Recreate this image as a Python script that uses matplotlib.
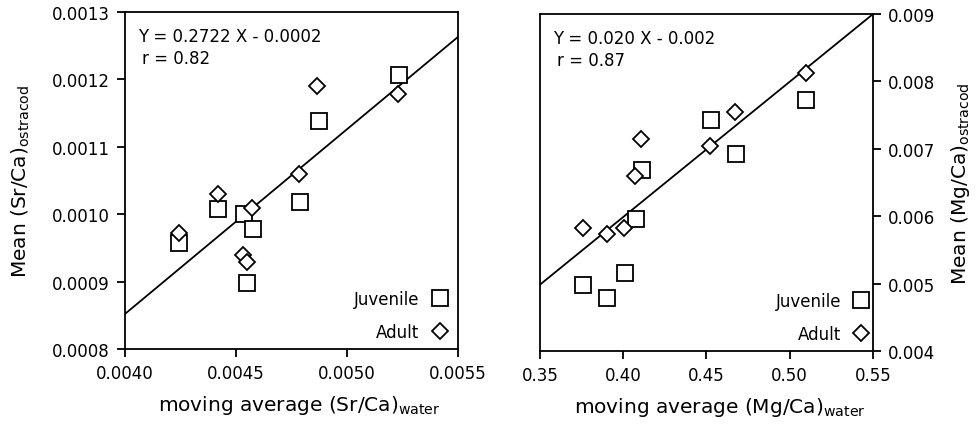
import matplotlib
matplotlib.use("Agg")
import matplotlib.pyplot as plt
import numpy as np

plt.rcParams['font.family'] = ['DejaVu Sans']

# Left panel: Sr/Ca
sr_juv_x = [0.004245, 0.004419, 0.004536, 0.004575, 0.004552, 0.004788, 0.004873, 0.005233]
sr_juv_y = [0.000958, 0.001008, 0.001000, 0.000978, 0.000898, 0.001018, 0.001138, 0.001207]
sr_ad_x = [0.004245, 0.004419, 0.004573, 0.004530, 0.004550, 0.004782, 0.004867, 0.005229]
sr_ad_y = [0.000972, 0.001030, 0.001009, 0.000940, 0.000929, 0.001060, 0.001190, 0.001179]
sr_fit = (0.274, -0.000244)
sr_xticks = [0.0040, 0.0045, 0.0050, 0.0055]
sr_yticks = [0.0008, 0.0009, 0.0010, 0.0011, 0.0012, 0.0013]

# Right panel: Mg/Ca
mg_juv_x = [0.376, 0.390, 0.401, 0.4074, 0.411, 0.4526, 0.4676, 0.510]
mg_juv_y = [0.00498, 0.00478, 0.00516, 0.00596, 0.00668, 0.00743, 0.00693, 0.00773]
mg_ad_x = [0.376, 0.390, 0.4006, 0.407, 0.4104, 0.452, 0.4674, 0.5096]
mg_ad_y = [0.00582, 0.00574, 0.00583, 0.00660, 0.00715, 0.00705, 0.00755, 0.00812]
mg_fit = (0.020075, -0.002041)
mg_xticks = [0.35, 0.40, 0.45, 0.50, 0.55]
mg_yticks = [0.004, 0.005, 0.006, 0.007, 0.008, 0.009]

fig = plt.figure(figsize=(9.77, 4.27), dpi=100)
ax1 = fig.add_axes([0.1279, 0.1803, 0.3408, 0.7892])
ax2 = fig.add_axes([0.5527, 0.1756, 0.3408, 0.7890])

fs = 12
lfs = 14.5
mk = dict(linestyle='none', markerfacecolor='white', markeredgecolor='black', markeredgewidth=1.3)

def style(ax):
    for s in ax.spines.values():
        s.set_linewidth(1.3)
    ax.tick_params(direction='out', length=6, width=1.3, labelsize=fs, pad=5)

# left
x = np.array(sr_xticks[0:1] + sr_xticks[-1:])
ax1.plot(x, sr_fit[0] * x + sr_fit[1], color='black', lw=1.3)
ax1.plot(sr_juv_x, sr_juv_y, marker='s', markersize=11, label='Juvenile', **mk)
ax1.plot(sr_ad_x, sr_ad_y, marker='D', markersize=8, label='Adult', **mk)
ax1.set_xlim(sr_xticks[0], sr_xticks[-1])
ax1.set_ylim(sr_yticks[0], sr_yticks[-1])
ax1.set_xticks(sr_xticks)
ax1.set_xticklabels([f"{v:.4f}" for v in sr_xticks])
ax1.set_yticks(sr_yticks)
ax1.set_yticklabels([f"{v:.4f}" for v in sr_yticks])
ax1.set_xlabel(r"moving average (Sr/Ca)$_{\mathregular{water}}$", fontsize=lfs, labelpad=8)
ax1.xaxis.label.set_x(0.524)
ax1.set_ylabel(r"Mean (Sr/Ca)$_{\mathregular{ostracod}}$", fontsize=lfs, labelpad=14)
ax1.text(0.04, 0.955, "Y = 0.2722 X - 0.0002", transform=ax1.transAxes, fontsize=fs, va='top')
ax1.text(0.05, 0.89, "r = 0.82", transform=ax1.transAxes, fontsize=fs, va='top')
ax1.legend(loc='lower right', markerfirst=False, frameon=False, fontsize=fs,
           handletextpad=0.6, labelspacing=0.9, borderaxespad=0.1, handlelength=1.2)
style(ax1)

# right
x = np.array(mg_xticks[0:1] + mg_xticks[-1:])
ax2.plot(x, mg_fit[0] * x + mg_fit[1], color='black', lw=1.3)
ax2.plot(mg_juv_x, mg_juv_y, marker='s', markersize=11, label='Juvenile', **mk)
ax2.plot(mg_ad_x, mg_ad_y, marker='D', markersize=8, label='Adult', **mk)
ax2.set_xlim(mg_xticks[0], mg_xticks[-1])
ax2.set_ylim(mg_yticks[0], mg_yticks[-1])
ax2.set_xticks(mg_xticks)
ax2.set_xticklabels([f"{v:.2f}" for v in mg_xticks])
ax2.set_yticks(mg_yticks)
ax2.set_yticklabels([f"{v:.3f}" for v in mg_yticks])
ax2.yaxis.tick_right()
ax2.yaxis.set_label_position('right')
ax2.set_xlabel(r"moving average (Mg/Ca)$_{\mathregular{water}}$", fontsize=lfs, labelpad=8)
ax2.xaxis.label.set_x(0.541)
ax2.set_ylabel(r"Mean (Mg/Ca)$_{\mathregular{ostracod}}$", fontsize=lfs, labelpad=10, rotation=90)
ax2.text(0.04, 0.955, "Y = 0.020 X - 0.002", transform=ax2.transAxes, fontsize=fs, va='top')
ax2.text(0.05, 0.89, "r = 0.87", transform=ax2.transAxes, fontsize=fs, va='top')
ax2.legend(loc='lower right', bbox_to_anchor=(1.02, 0.0), markerfirst=False, frameon=False,
           fontsize=fs, handletextpad=0.6, labelspacing=0.9, borderaxespad=0.1, handlelength=1.2)
style(ax2)

fig.savefig("out.png", dpi=100)
